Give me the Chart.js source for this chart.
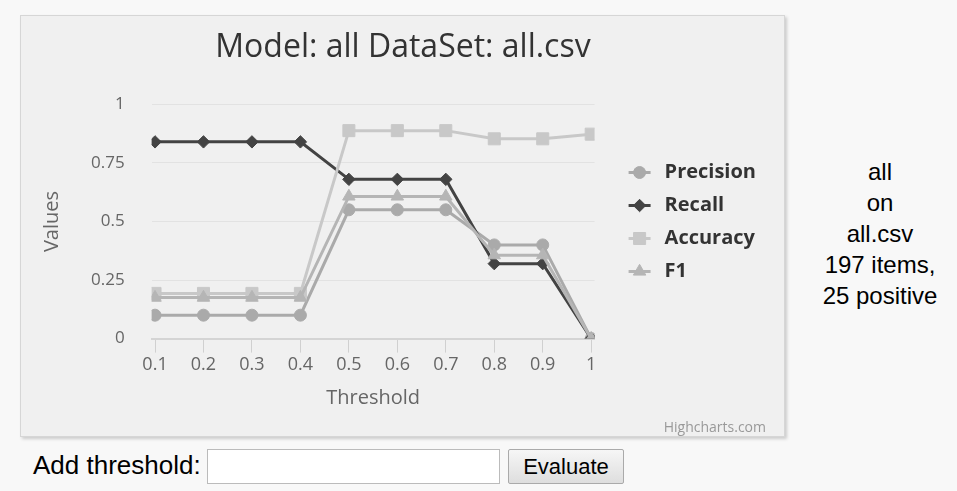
<!DOCTYPE html>
<html>
<head>
<meta charset="utf-8">
<script src="https://cdn.jsdelivr.net/npm/chart.js@4"></script>
<style>
  html, body { margin: 0; padding: 0; background: #f8f8f8; width: 957px; height: 491px; overflow: hidden; }
  #box { position: absolute; left: 20px; top: 15px; width: 763px; height: 420px; background: #f0f0f0;
         border: 1px solid #d6d6d6; box-shadow: 2px 2px 3px rgba(0,0,0,0.18); }
  #c { display: block; }
  #side { position: absolute; left: 800px; width: 160px; top: 156px; text-align: center;
          font-family: "Liberation Sans", Arial, sans-serif; font-size: 24px; line-height: 31px; color: #000; }
  #form { position: absolute; left: 33px; top: 449px; font-family: "Liberation Sans", Arial, sans-serif; font-size: 26px; color: #000; }
  #lbl { position: absolute; left: 0; top: 1px; white-space: nowrap; }
  #inp { position: absolute; left: 174px; top: 0; width: 291px; height: 33px; border: 1px solid #bbb; background: #fff; }
  #btn { position: absolute; left: 475px; top: 0; width: 114px; height: 33px; border: 1px solid #aaa; border-radius: 2px;
         background: linear-gradient(#f6f6f6, #dedede); font-size: 22px; line-height: 33px; text-align: center; }
</style>
</head>
<body>
<div id="box"><canvas id="c" width="763" height="420"></canvas></div>
<div id="side">all<br>on<br>all.csv<br>197 items,<br>25 positive</div>
<div id="form"><span id="lbl">Add threshold:</span><div id="inp"></div><div id="btn">Evaluate</div></div>
<script>
const thresholds = [0.1, 0.2, 0.3, 0.4, 0.5, 0.6, 0.7, 0.8, 0.9, 1];
const precision  = [0.10, 0.10, 0.10, 0.10, 0.55, 0.55, 0.55, 0.40, 0.40, 0];
const recall     = [0.84, 0.84, 0.84, 0.84, 0.68, 0.68, 0.68, 0.32, 0.32, 0];
const accuracy   = [0.193, 0.193, 0.193, 0.193, 0.888, 0.888, 0.888, 0.853, 0.853, 0.873];
const f1         = [0.175, 0.175, 0.175, 0.175, 0.607, 0.607, 0.607, 0.356, 0.356, 0];
const yTicks = [0, 0.25, 0.5, 0.75, 1];

const pts = arr => thresholds.map((t, i) => ({ x: t, y: arr[i] }));
const FONT = "'Open Sans', 'DejaVu Sans', sans-serif";
const LEG_FONT = 20, LEG_BOX = 47;

const legendLines = {
  id: 'legendLines',
  afterLayout(chart) {
    const lg = chart.legend;
    if (lg) { lg.top -= 4; lg.bottom -= 4; }
  },
  afterDraw(chart) {
    const lg = chart.legend;
    if (!lg || !lg.legendHitBoxes) return;
    const ctx = chart.ctx;
    lg.legendItems.forEach((item, i) => {
      const hb = lg.legendHitBoxes[i];
      const ds = chart.data.datasets[item.datasetIndex];
      const end = hb.left + LEG_BOX + LEG_FONT / 2 - 14;
      const cx = end - 11, cy = hb.top + hb.height / 2;
      ctx.save();
      ctx.strokeStyle = ds.borderColor;
      ctx.lineWidth = 3;
      ctx.beginPath(); ctx.moveTo(end - 22, cy); ctx.lineTo(end, cy); ctx.stroke();
      ctx.fillStyle = ds.borderColor;
      ctx.strokeStyle = ds.borderColor;
      ctx.lineWidth = 1;
      Chart.helpers.drawPoint(ctx, { pointStyle: ds.pointStyle, radius: ds.pointRadius, borderWidth: 1, rotation: 0 }, cx, cy);
      ctx.restore();
    });
  }
};

function mk(label, data, color, style, radius, order) {
  return { label, data: pts(data), borderColor: color, backgroundColor: color, pointBackgroundColor: color,
           pointBorderColor: color, borderWidth: 3, pointStyle: style, pointRadius: radius, pointHoverRadius: radius,
           pointBorderWidth: 1, tension: 0, order };
}

new Chart(document.getElementById('c'), {
  type: 'line',
  data: {
    datasets: [
      mk('Precision', precision, '#aaaaaa', 'circle', 6, 4),
      mk('Recall', recall, '#434343', 'rectRot', 6.2, 3),
      mk('Accuracy', accuracy, '#c8c8c8', 'rect', 8.5, 2),
      mk('F1', f1, '#b5b5b5', 'triangle', 7.2, 1)
    ]
  },
  options: {
    responsive: false,
    animation: false,
    layout: { padding: { left: 19, right: 18, top: 0, bottom: 0 } },
    plugins: {
      title: { display: true, text: 'Model: all DataSet: all.csv', color: '#333333',
               font: { family: FONT, size: 32, weight: 'normal' }, padding: { top: 13, bottom: 37 } },
      subtitle: { display: true, position: 'bottom', align: 'end', text: 'Highcharts.com', color: '#999999',
                  font: { family: FONT, size: 14 }, padding: { top: 9, bottom: 0 } },
      legend: {
        position: 'right', align: 'center',
        labels: { usePointStyle: true, pointStyleWidth: LEG_BOX, boxHeight: 12, padding: 13, color: '#333333',
                  font: { family: FONT, size: LEG_FONT, weight: 'bold' },
                  sort: (a, b) => a.datasetIndex - b.datasetIndex,
                  generateLabels: chart => Chart.defaults.plugins.legend.labels.generateLabels(chart).map(l =>
                    Object.assign(l, { fillStyle: 'rgba(0,0,0,0)', strokeStyle: 'rgba(0,0,0,0)', lineWidth: 0 })) }
      },
      tooltip: { enabled: false }
    },
    scales: {
      x: {
        type: 'linear', min: 0.093, max: 1.007,
        afterBuildTicks: s => { s.ticks = thresholds.map(v => ({ value: v })); },
        ticks: { color: '#666666', font: { family: FONT, size: 18 }, padding: 1, maxRotation: 0, autoSkip: false,
                 callback: v => String(v) },
        grid: { drawOnChartArea: false, drawTicks: true, tickLength: 14, color: '#d0d0d0', lineWidth: 1 },
        border: { color: '#d4d4d4', width: 2 },
        title: { display: true, text: 'Threshold', color: '#666666', font: { family: FONT, size: 20 }, padding: { top: 10, bottom: 0 } }
      },
      y: {
        type: 'linear', min: 0, max: 1,
        afterBuildTicks: s => { s.ticks = yTicks.map(v => ({ value: v })); },
        ticks: { color: '#666666', font: { family: FONT, size: 17 }, padding: 27, callback: v => String(v) },
        grid: { color: '#e2e2e2', drawTicks: false, lineWidth: 1 },
        border: { display: false },
        title: { display: true, text: 'Values', color: '#666666', font: { family: FONT, size: 20 }, padding: { top: 0, bottom: 0 } }
      }
    }
  },
  plugins: [legendLines]
});
</script>
</body>
</html>
